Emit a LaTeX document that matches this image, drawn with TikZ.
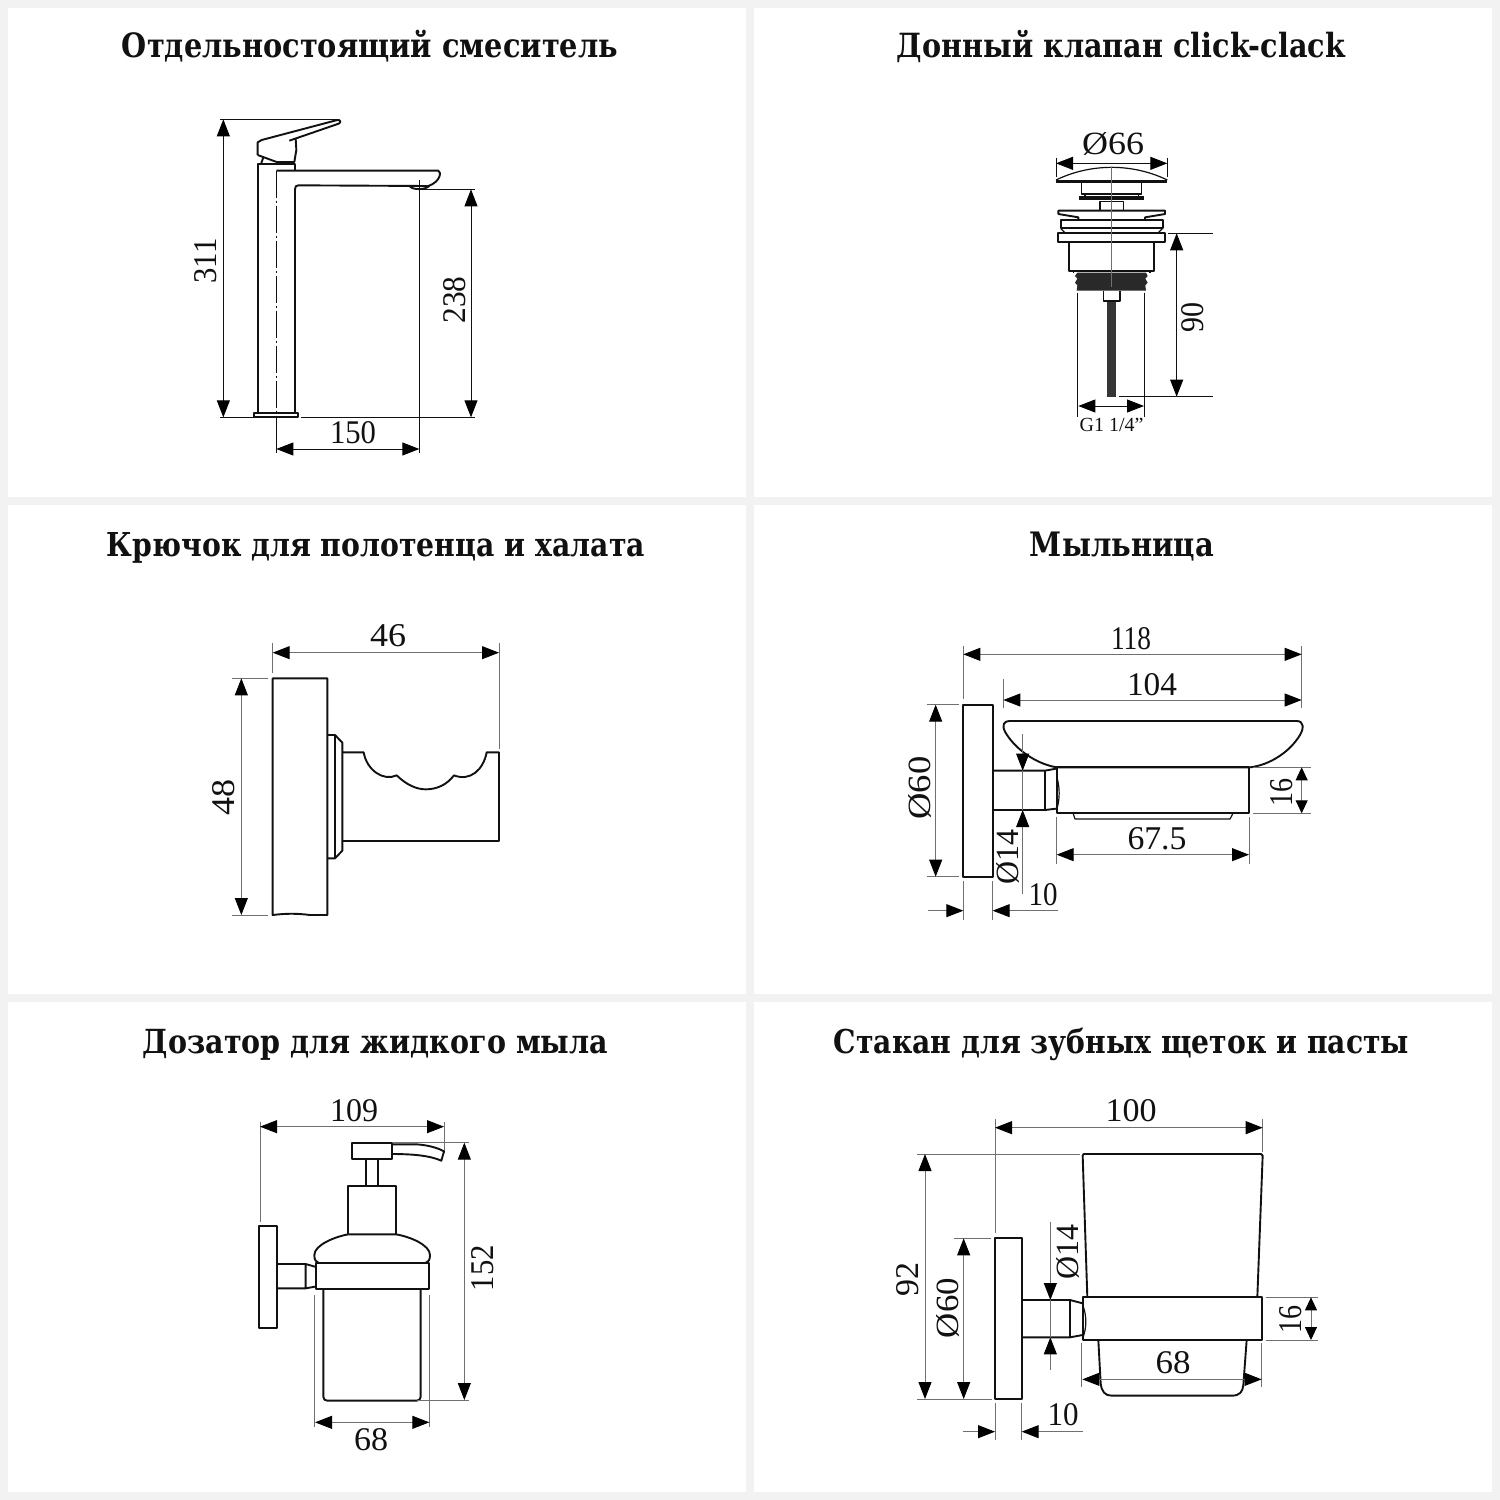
\documentclass[tikz,border=0pt]{standalone}
\usepackage{fontspec}
\setmainfont{Liberation Serif}
\newfontfamily\ttlfont[FakeStretch=0.86]{DejaVu Serif}
\usetikzlibrary{arrows.meta}
\definecolor{bggray}{HTML}{F2F2F2}
\definecolor{ink}{HTML}{111111}
\definecolor{dimgr}{HTML}{707070}
\newcommand{\ttl}[2]{\resizebox{#1pt}{!}{\ttlfont\bfseries #2}}
\newcommand{\dg}[2]{\resizebox{#1pt}{22pt}{#2}}
\tikzset{
  panel/.style={fill=white,draw=none},
  obj/.style={draw=ink,line width=1.9pt,line join=round},
  thinobj/.style={draw=ink,line width=1.2pt,line join=round},
  dimln/.style={draw=dimgr,line width=0.9pt},
  darkdim/.style={draw=ink,line width=0.9pt},
  dbl/.style={{Triangle[length=17pt,width=13pt,color=black]}-{Triangle[length=17pt,width=13pt,color=black]}},
  tip/.style={-{Triangle[length=17pt,width=13pt,color=black]}},
  smalltip/.style={{Triangle[length=13pt,width=12pt,color=black]}-{Triangle[length=13pt,width=12pt,color=black]}},
  dimtxt/.style={font=\fontsize{32}{32}\selectfont,text=ink,inner sep=0pt},
  vdim/.style={dimtxt,rotate=90},
  ttlnode/.style={anchor=base,inner sep=0pt,text=ink},
  zm/.style={shift={#1},scale=0.33333}
}
\begin{document}
\begin{tikzpicture}[x=1pt,y=-1pt]
\useasboundingbox (0,0) rectangle (1500,1500);
\fill[bggray] (0,0) rectangle (1500,1500);
\fill[panel] (8,8) rectangle (746,497);
\fill[panel] (754,8) rectangle (1492,497);
\fill[panel] (8,505) rectangle (746,994);
\fill[panel] (754,505) rectangle (1492,994);
\fill[panel] (8,1002) rectangle (746,1492);
\fill[panel] (754,1002) rectangle (1492,1492);
\node[ttlnode] (t1) at (370,57) {\ttl{496}{Отдельностоящий смеситель}};
\node[ttlnode] (t2) at (1121,57) {\ttl{448}{Донный клапан click-clack}};
\node[ttlnode] (t3) at (376,556) {\ttl{538}{Крючок для полотенца и халата}};
\node[ttlnode] (t4) at (1122,556) {\ttl{184}{Мыльница}};
\node[ttlnode] (t5) at (375.5,1053) {\ttl{465}{Дозатор для жидкого мыла}};
\node[ttlnode] (t6) at (1121.5,1053) {\ttl{575}{Стакан для зубных щеток и пасты}};
% faucet
\begin{scope}[zm={(180,100)}]
\draw[darkdim] (120,58) -- (478,58);
\draw[darkdim] (120,952) -- (222,952) (362,952) -- (885,952);
\draw[darkdim] (718,240) -- (718,1058);
\draw[darkdim] (715,268) -- (885,268);
\draw[darkdim] (289,952) -- (289,1058);
\draw[darkdim,dbl] (130,58) -- (130,952);
\draw[darkdim,dbl] (873,268) -- (873,952);
\draw[darkdim,dbl] (289,1047) -- (718,1047);
\draw[darkdim,dash pattern=on 27pt off 3pt on 2pt off 3pt] (289,212) -- (289,952);
\draw[obj] (235,940) -- (235,193) -- (344,193) -- (344,212);
\draw[obj] (289,212) -- (775,212) .. controls (785,215) and (782,245) .. (745,258) -- (355,256) .. controls (348,256) and (345,260) .. (345,268) -- (345,938);
\draw[obj] (223,938) rectangle (355,952);
\draw[obj] (690,260) .. controls (700,270) and (735,270) .. (748,258);
\draw[obj] (233,165) -- (233,127) -- (245,120) -- (472,60) .. controls (482,58) and (484,68) .. (476,71) -- (328,122);
\draw[obj] (347,115) -- (349,150) -- (343,186) -- (290,186) -- (233,165);
\draw[obj] (250,172) -- (243,192);
\end{scope}
\node[vdim] (a311) at (206,261) {\dg{45}{311}};
\node[vdim] (a238) at (455,300) {\dg{47}{238}};
\node[dimtxt] (a150) at (353,433) {\dg{46}{150}};
% drain
\begin{scope}[zm={(1020,120)}]
\draw[darkdim] (108,115) -- (108,170) (442,115) -- (442,170);
\draw[darkdim,dbl] (108,130) -- (442,130);
\draw[thinobj] (108,180) .. controls (170,150) and (230,142) .. (275,142) .. controls (320,142) and (380,150) .. (442,180);
\draw[obj,line width=2.4pt] (108,184) -- (442,184);
\draw[thinobj] (185,187) -- (185,222) -- (365,222) -- (365,187);
\draw[thinobj] (195,222) -- (195,228) (355,222) -- (355,228);
\draw[obj] (178,230) -- (372,230) (178,238) -- (372,238);
\draw[thinobj] (240,245) rectangle (310,272);
\draw[obj,fill=white] (115,272) -- (435,272) -- (435,282) -- (375,292) -- (375,300) -- (175,300) -- (175,292) -- (115,282) -- cycle;
\draw[obj] (122,300) rectangle (428,325);
\draw[thinobj] (122,325) -- (135,338) (428,325) -- (415,338);
\draw[obj] (115,338) rectangle (435,366);
\draw[obj] (148,366) -- (148,452) -- (402,452) -- (402,366);
\draw[thinobj] (160,452) -- (160,458) (390,452) -- (390,458);
\fill[ink!90!white] (172,458) -- (378,458) -- (383,468) -- (376,476) -- (383,488) -- (376,496) -- (378,512) -- (170,512) -- (172,496) -- (165,488) -- (172,476) -- (165,468) -- cycle;
\draw[thinobj] (250,512) -- (250,543) -- (300,543) -- (300,512);
\fill[ink!85!white] (262,545) rectangle (288,830);
\draw[dimln] (275,142) -- (275,500);
\draw[darkdim] (173,518) -- (173,890) (372,518) -- (372,890);
\draw[darkdim,dbl] (175,858) -- (372,858);
\draw[darkdim] (445,340) -- (580,340) (298,830) -- (580,830);
\draw[darkdim,dbl] (470,340) -- (470,830);
\end{scope}
\node[dimtxt] (b66) at (1113,144) {\dg{62}{Ø66}};
\node[dimtxt,font=\fontsize{20}{20}\selectfont] (bg) at (1111.5,425) {G1 1/4”};
\node[vdim] (b90) at (1193,317) {\dg{30}{90}};
% hook
\begin{scope}[zm={(200,620)}]
\draw[dimln] (218,70) -- (218,160) (897,70) -- (897,388);
\draw[dimln,dbl] (218,98) -- (897,98);
\draw[dimln] (97,175) -- (205,175) (97,885) -- (205,885);
\draw[dimln,dbl] (124,175) -- (124,885);
\draw[obj] (218,175) -- (382,175) -- (382,885) -- (330,885) .. controls (290,880) and (260,880) .. (218,885) -- cycle;
\draw[obj] (382,345) -- (405,345) -- (427,368) -- (427,692) -- (405,715) -- (382,715);
\draw[thinobj] (405,345) -- (405,715);
\draw[obj] (427,397) -- (491,397) .. controls (500,450) and (550,485) .. (590,466) .. controls (620,495) and (650,508) .. (677,508) .. controls (710,508) and (740,495) .. (762,466) .. controls (810,485) and (850,450) .. (860,397) -- (897,397) -- (897,663) -- (427,663);
\end{scope}
\node[dimtxt] (c46) at (388,636) {\dg{36}{46}};
\node[vdim] (c48) at (224,797) {\dg{36}{48}};
% soap dish
\begin{scope}[zm={(900,620)}]
\draw[dimln] (190,78) -- (190,238) (1205,78) -- (1205,265) (310,178) -- (310,265);
\draw[dimln,dbl] (190,103) -- (1205,103);
\draw[dimln,dbl] (310,240) -- (1205,240);
\draw[dimln] (80,254) -- (178,254) (80,770) -- (178,770);
\draw[dimln,dbl] (107,254) -- (107,770);
\draw[obj] (190,254) rectangle (278,770);
\draw[obj] (328,303) -- (1190,303) .. controls (1212,303) and (1212,325) .. (1200,345) .. controls (1170,395) and (1110,435) .. (1050,442) -- (470,442) .. controls (400,430) and (340,380) .. (315,335) .. controls (305,315) and (312,303) .. (328,303) -- cycle;
\draw[obj] (470,442) rectangle (1048,580);
\draw[thinobj] (520,582) -- (525,597) -- (990,597) -- (998,582);
\draw[obj] (278,452) -- (435,452) -- (468,446) (278,570) -- (435,570) -- (468,566) (435,452) -- (435,570);
\draw[thinobj] (470,470) .. controls (480,500) and (480,540) .. (470,568);
\draw[dimln] (368,343) -- (368,822);
\draw[dimln,tip] (368,400) -- (368,452);
\draw[dimln,tip] (368,628) -- (368,570);
\draw[dimln] (1060,442) -- (1232,442) (1060,580) -- (1232,580);
\draw[dimln,smalltip] (1205,442) -- (1205,580);
\draw[dimln] (470,590) -- (470,732) (1047,590) -- (1047,732);
\draw[dimln,dbl] (470,704) -- (1047,704);
\draw[dimln] (190,783) -- (190,900) (278,783) -- (278,900);
\draw[dimln,tip] (85,872) -- (190,872);
\draw[dimln,tip] (475,872) -- (278,872);
\end{scope}
\node[dimtxt] (d118) at (1131,639) {\dg{40}{118}};
\node[dimtxt] (d104) at (1152,685) {\dg{50}{104}};
\node[vdim] (d60) at (920,788) {\dg{63}{Ø60}};
\node[vdim] (d14) at (1008,857) {\dg{55}{Ø14}};
\node[vdim] (d16) at (1282,792) {\dg{28}{16}};
\node[dimtxt] (d675) at (1157,839) {\dg{59}{67.5}};
\node[dimtxt] (d10) at (1043,895) {\dg{29}{10}};
% dispenser
\begin{scope}[zm={(240,1090)}]
\draw[dimln] (60,95) -- (60,395) (612,95) -- (612,190);
\draw[dimln,dbl] (60,110) -- (612,110);
\draw[obj] (58,407) rectangle (110,713);
\draw[obj] (110,522) -- (197,522) -- (225,530) (110,595) -- (197,595) -- (225,590) (197,522) -- (197,595);
\draw[obj] (227,520) rectangle (567,598);
\draw[obj] (250,600) -- (250,920) .. controls (250,928) and (255,932) .. (262,932) -- (530,932) .. controls (537,932) and (542,928) .. (542,920) -- (542,600);
\draw[obj] (325,433) -- (468,433) .. controls (510,440) and (570,465) .. (570,495) .. controls (570,510) and (565,516) .. (558,518);
\draw[obj] (325,433) .. controls (285,440) and (223,465) .. (223,495) .. controls (223,510) and (228,516) .. (235,518);
\draw[obj] (325,433) -- (325,287) -- (468,287) -- (468,433);
\draw[obj] (378,207) -- (378,287) (413,207) -- (413,287);
\draw[obj] (337,160) rectangle (456,207);
\draw[obj] (456,163) -- (530,163) .. controls (560,165) and (590,172) .. (612,184) -- (604,212) .. controls (570,197) and (520,192) .. (456,192);
\draw[dimln] (456,158) -- (688,158) (530,930) -- (688,930);
\draw[dimln,dbl] (673,158) -- (673,930);
\draw[dimln] (224,615) -- (224,1012) (568,615) -- (568,1012);
\draw[dimln,dbl] (225,997) -- (568,997);
\end{scope}
\node[dimtxt] (e109) at (354,1111) {\dg{48}{109}};
\node[vdim] (e152) at (483,1268) {\dg{46}{152}};
\node[dimtxt] (e68) at (371,1440) {\dg{34}{68}};
% cup
\begin{scope}[zm={(880,1090)}]
\draw[dimln] (345,88) -- (345,430) (1148,88) -- (1148,185);
\draw[dimln,dbl] (345,113) -- (1148,113);
\draw[dimln] (112,192) -- (600,192) (112,927) -- (335,927) (222,445) -- (332,445);
\draw[dimln,dbl] (135,192) -- (135,927);
\draw[dimln,dbl] (251,445) -- (251,927);
\draw[obj] (345,445) rectangle (425,927);
\draw[dimln] (345,940) -- (345,1050) (425,940) -- (425,1050);
\draw[dimln,tip] (248,1025) -- (345,1025);
\draw[dimln,tip] (610,1025) -- (425,1025);
\draw[obj] (427,630) -- (570,630) -- (608,640) (427,742) -- (570,742) -- (608,735) (570,630) -- (570,742);
\draw[thinobj] (610,650) .. controls (620,680) and (620,710) .. (610,740);
\draw[obj] (622,622) -- (608,197) -- (611,192) -- (1143,192) -- (1148,197) -- (1132,622);
\draw[obj] (610,622) rectangle (1146,750);
\draw[obj] (655,750) -- (662,880) .. controls (665,905) and (675,917) .. (695,917) -- (1055,917) .. controls (1080,917) and (1088,905) .. (1090,885) -- (1100,750);
\draw[dimln] (511,395) -- (511,840);
\draw[dimln,tip] (511,575) -- (511,630);
\draw[dimln,tip] (511,800) -- (511,742);
\draw[dimln] (1157,622) -- (1315,622) (1157,750) -- (1315,750);
\draw[dimln,smalltip] (1293,622) -- (1293,750);
\draw[dimln] (605,760) -- (605,890) (1145,760) -- (1145,890);
\draw[dimln,dbl] (607,868) -- (1145,868);
\end{scope}
\node[dimtxt] (f100) at (1131,1111) {\dg{51}{100}};
\node[vdim] (f92) at (908,1279) {\dg{34}{92}};
\node[vdim] (f60) at (948,1308) {\dg{60}{Ø60}};
\node[vdim] (f14) at (1068,1252) {\dg{55}{Ø14}};
\node[vdim] (f16) at (1291,1319) {\dg{28}{16}};
\node[dimtxt] (f68) at (1173,1363) {\dg{35}{68}};
\node[dimtxt] (f10) at (1063,1415) {\dg{31}{10}};
\end{tikzpicture}
\end{document}
